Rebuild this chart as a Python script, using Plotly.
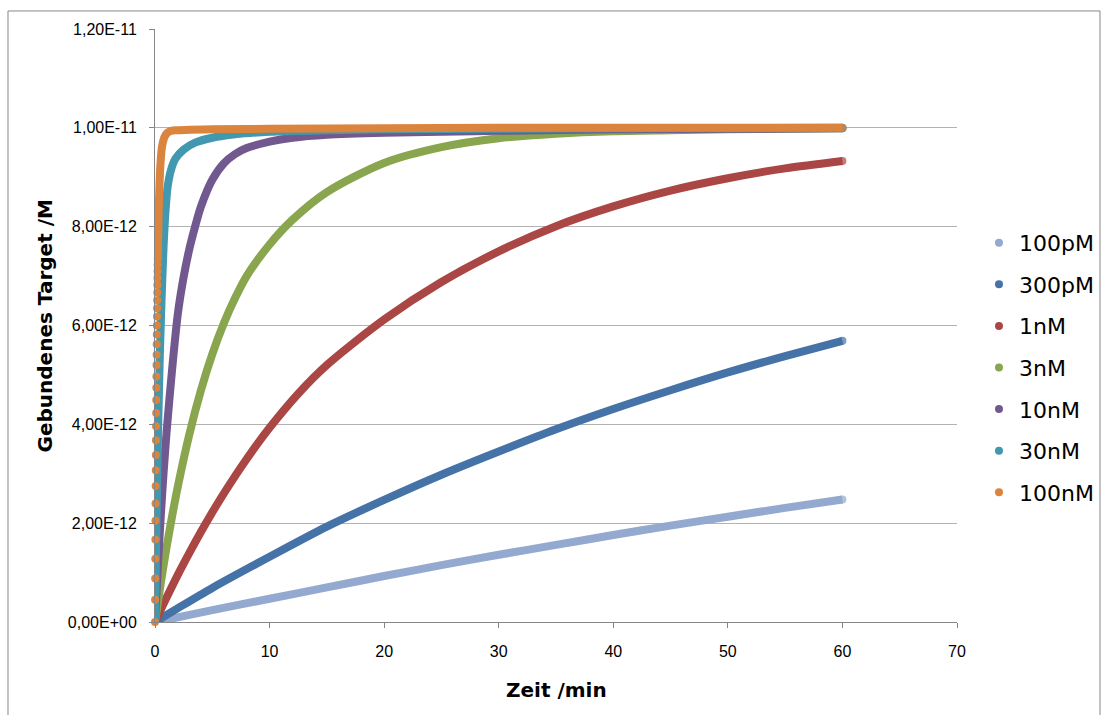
import numpy as np
import plotly.graph_objects as go

# ---------------- data (bound target in units of 1E-12 M, time in min) ----------------
series_names = ["100pM", "300pM", "1nM", "3nM", "10nM", "30nM", "100nM"]
series_colors = ["#93A9CF", "#4572A7", "#AA4643", "#89A54E", "#71588F", "#4198AF", "#DB843D"]

t_100pM = [0, 5, 10, 15, 20, 25, 30, 35, 40, 45, 50, 55, 60]
v_100pM = [0, 0.24, 0.47, 0.70, 0.93, 1.15, 1.36, 1.56, 1.76, 1.95, 2.13, 2.31, 2.48]

t_300pM = [0, 2, 5, 10, 15, 20, 25, 30, 35, 40, 45, 50, 55, 60]
v_300pM = [0, 0.28, 0.69, 1.32, 1.93, 2.47, 2.98, 3.45, 3.90, 4.31, 4.69, 5.05, 5.38, 5.69]

t_1nM = [0, 1, 2, 3, 4, 5, 6, 8, 10, 12.5, 15, 20, 25, 30, 35, 40, 45, 50, 55, 60]
v_1nM = [0, 0.49, 0.96, 1.40, 1.82, 2.22, 2.60, 3.30, 3.93, 4.62, 5.20, 6.12, 6.88, 7.50, 8.01, 8.41, 8.73, 8.98, 9.18, 9.33]

t_3nM = [0, 0.5, 1, 1.5, 2, 3, 4, 5, 6, 7, 8, 10, 12, 15, 20, 25, 30, 35, 40, 45, 50, 55, 60]
v_3nM = [0, 0.78, 1.50, 2.15, 2.75, 3.80, 4.68, 5.42, 6.04, 6.56, 7.00, 7.64, 8.14, 8.70, 9.29, 9.61, 9.79, 9.88, 9.93, 9.95, 9.97, 9.98, 9.99]

t_10nM = [0, 0.25, 0.5, 0.75, 1, 1.5, 2, 2.5, 3, 3.5, 4, 5, 6, 7, 8, 10, 12, 15, 20, 25, 30, 40, 50, 60]
v_10nM = [0, 1.13, 2.13, 3.02, 3.81, 5.13, 6.25, 6.98, 7.55, 8.00, 8.40, 8.95, 9.28, 9.47, 9.59, 9.72, 9.80, 9.86, 9.90, 9.92, 9.94, 9.97, 9.98, 9.99]

t_30nM = [0, 0.1, 0.2, 0.3, 0.4, 0.5, 0.6, 0.75, 0.9, 1.1, 1.4, 1.8, 2.5, 3.5, 5, 7, 10, 15, 20, 30, 40, 60]
v_30nM = [0, 1.6, 3.0, 4.2, 5.2, 6.0, 6.7, 7.6, 8.25, 8.8, 9.15, 9.38, 9.56, 9.70, 9.80, 9.87, 9.92, 9.95, 9.97, 9.98, 9.99, 10.0]

# 100nM: the first seconds appear as separate dots, the rest as a dense band
t_100nM_dots = [0.000, 0.008, 0.017, 0.025, 0.033, 0.042, 0.050, 0.058, 0.067, 0.075,
                0.083, 0.092, 0.100, 0.108, 0.117, 0.125, 0.133, 0.142, 0.150, 0.158,
                0.167, 0.175, 0.183, 0.192, 0.200, 0.208, 0.217, 0.225, 0.233, 0.242]
v_100nM_dots = [0.00, 0.45, 0.88, 1.28, 1.67, 2.05, 2.40, 2.75, 3.07, 3.38,
                3.68, 3.96, 4.23, 4.49, 4.74, 4.97, 5.20, 5.41, 5.62, 5.82,
                6.00, 6.18, 6.35, 6.51, 6.67, 6.82, 6.96, 7.10, 7.23, 7.35]
t_100nM = [0.242, 0.25, 0.3, 0.35, 0.45, 0.6, 0.8, 1.0, 1.3, 1.8, 3, 5, 10, 20, 30, 40, 50, 60]
v_100nM = [7.35, 7.47, 8.08, 8.54, 9.16, 9.60, 9.80, 9.88, 9.93, 9.95, 9.96, 9.97, 9.98, 9.99, 10.0, 10.0, 10.0, 10.0]

x_tickvals = [0, 10, 20, 30, 40, 50, 60, 70]
y_tickvals = [0, 2, 4, 6, 8, 10, 12]          # in 1E-12
y_ticktext = ["0,00E+00", "2,00E-12", "4,00E-12", "6,00E-12", "8,00E-12", "1,00E-11", "1,20E-11"]

all_t = [t_100pM, t_300pM, t_1nM, t_3nM, t_10nM, t_30nM, t_100nM]
all_v = [v_100pM, v_300pM, v_1nM, v_3nM, v_10nM, v_30nM, v_100nM]
SCALE = 1e-12

fig = go.Figure()
for name, col, t, v in zip(series_names, series_colors, all_t, all_v):
    if name == "100nM":
        fig.add_trace(go.Scatter(
            x=t_100nM_dots, y=np.array(v_100nM_dots) * SCALE, mode="markers",
            marker=dict(color=col, size=8, line=dict(width=0)),
            showlegend=False, cliponaxis=False, legendgroup=name, name=name,
        ))
    sizes = [0] * len(t)
    sizes[-1] = 8
    fig.add_trace(go.Scatter(
        x=t, y=np.array(v) * SCALE, mode="lines+markers", name=name,
        line=dict(color=col, width=8, shape="spline", smoothing=0.8),
        marker=dict(color=col, size=sizes, line=dict(width=0)),
        showlegend=False, cliponaxis=False, legendgroup=name,
    ))
# legend entries (dot only)
for name, col in zip(series_names, series_colors):
    fig.add_trace(go.Scatter(
        x=[None], y=[None], mode="markers", name=name, legendgroup=name,
        marker=dict(color=col, size=8), showlegend=True,
    ))

axis_gray = "#868686"
fig.update_layout(
    width=1105, height=715,
    margin=dict(l=155, r=148, t=29, b=93, autoexpand=False),
    paper_bgcolor="white", plot_bgcolor="white",
    showlegend=True,
    legend=dict(
        x=1.0274, xanchor="left", y=0.4285, yanchor="middle",
        font=dict(family="DejaVu Sans", size=22, color="black"),
        bgcolor="rgba(0,0,0,0)", tracegroupgap=10, itemsizing="trace",
    ),
    xaxis=dict(
        range=[0, 70], tickvals=x_tickvals, ticks="outside", ticklen=5,
        tickcolor=axis_gray, showline=True, linecolor=axis_gray, linewidth=1,
        showgrid=False, zeroline=False, ticklabelstandoff=10,
        tickfont=dict(family="Liberation Sans", size=16, color="black"),
    ),
    yaxis=dict(
        range=[0, 12 * SCALE], tickvals=[v * SCALE for v in y_tickvals], ticktext=y_ticktext,
        ticks="outside", ticklen=5, tickcolor=axis_gray, showline=True,
        linecolor=axis_gray, linewidth=1, showgrid=True, gridcolor="#B3B3B3",
        gridwidth=1, zeroline=False, ticklabelstandoff=9,
        tickfont=dict(family="Liberation Sans", size=16, color="black"),
    ),
    annotations=[
        dict(text="Gebundenes Target /M", textangle=-90, xref="paper", yref="paper",
             x=-0.1372, y=0.5, xanchor="center", yanchor="middle", showarrow=False,
             font=dict(family="DejaVu Sans", size=20, color="black", weight="bold")),
        dict(text="Zeit /min", xref="paper", yref="paper",
             x=0.5, y=-0.1147, xanchor="center", yanchor="middle", showarrow=False,
             font=dict(family="DejaVu Sans", size=20, color="black", weight="bold")),
    ],
    shapes=[
        dict(type="rect", xref="paper", yref="paper", x0=-0.1833, x1=1.1783,
             y0=-0.17, y1=1.0304, line=dict(color=axis_gray, width=1), layer="below"),
    ],
)

fig.write_html("out.html", config={"displayModeBar": False},
               post_script="document.body.style.margin='0';")
